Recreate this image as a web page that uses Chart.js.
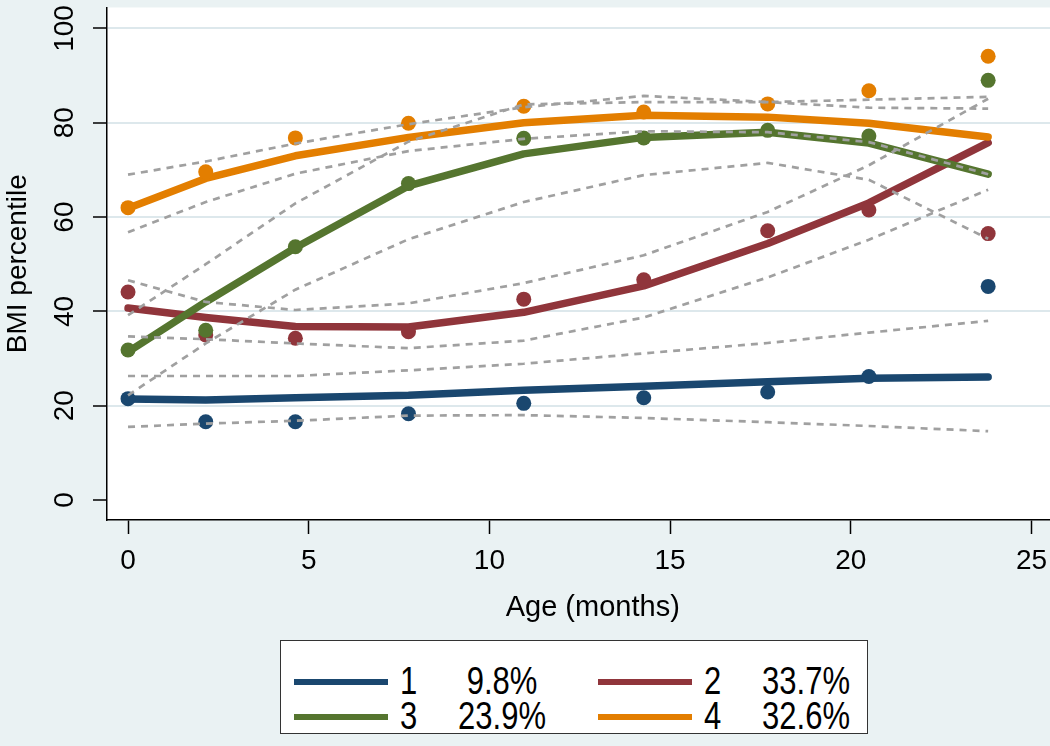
<!DOCTYPE html>
<html>
<head>
<meta charset="utf-8">
<script src="https://cdn.jsdelivr.net/npm/chart.js@4.4.1/dist/chart.umd.min.js"></script>
<style>
  html, body { margin:0; padding:0; background:#eaf2f3; }
  body { width:1050px; height:746px; position:relative; overflow:hidden; font-family:"Liberation Sans", Arial, sans-serif; }
  #wrap { position:absolute; left:0; top:0; width:1086px; height:625px; }
  #legend { position:absolute; left:280px; top:640px; width:588px; height:94px; background:#fff; border:1.5px solid #333; box-sizing:border-box; }
  .item { position:absolute; height:36px; }
  .key { position:absolute; left:0; top:15px; width:94px; height:6px; }
  .num, .pct { position:absolute; top:0; font-size:31px; line-height:36px; color:#000; transform:scaleY(1.28); transform-origin:50% 55%; }
  .num { left:106px; }
  .pct { left:148px; width:120px; text-align:center; }
</style>
</head>
<body>
<div id="wrap"><canvas id="c"></canvas></div>
<div id="legend"></div>
<script>
// ---- data ----
const months = [0, 2.15, 4.63, 7.76, 10.95, 14.27, 17.7, 20.5, 23.8];
const xTicks = [0, 5, 10, 15, 20, 25];
const yTicks = [0, 20, 40, 60, 80, 100];

const groupLabels = ['1', '2', '3', '4'];
const groupShares = ['9.8%', '33.7%', '23.9%', '32.6%'];
const groupColors = ['#1a476f', '#90353b', '#55752f', '#e37e00'];

const obs1 = [21.5, 16.6, 16.6, 18.3, 20.5, 21.7, 22.9, 26.2, 45.3];
const fit1 = [21.4, 21.2, 21.7, 22.2, 23.3, 24.1, 25.1, 25.8, 26.1];
const lo1  = [15.5, 16.2, 16.8, 17.9, 18.0, 17.4, 16.5, 15.7, 14.6];
const hi1  = [26.3, 26.3, 26.3, 27.5, 28.9, 31.1, 33.3, 35.5, 38.0];

const obs2 = [44.1, 35.0, 34.3, 35.7, 42.6, 46.7, 57.1, 61.5, 56.5];
const fit2 = [40.7, 38.7, 36.8, 36.7, 39.8, 45.4, 54.4, 63.0, 75.8];
const lo2  = [34.7, 34.1, 33.2, 32.2, 33.8, 38.7, 47.2, 55.2, 65.8];
const hi2  = [46.6, 42.0, 40.3, 41.7, 46.0, 51.9, 61.1, 71.0, 85.1];

const obs3 = [31.8, 36.0, 53.7, 67.1, 76.7, 76.8, 78.4, 77.2, 89.0];
const fit3 = [31.4, 42.0, 53.5, 66.6, 73.4, 76.9, 78.0, 75.7, 69.1];
const lo3  = [22.2, 33.2, 44.6, 55.3, 63.2, 68.9, 71.5, 67.9, 55.4];
const hi3  = [39.2, 50.0, 62.9, 76.0, 83.9, 84.4, 84.4, 83.2, 83.0];

const obs4 = [62.0, 69.6, 76.8, 79.9, 83.5, 82.3, 84.0, 86.8, 94.1];
const fit4 = [61.9, 68.2, 73.0, 76.9, 80.0, 81.6, 81.2, 79.9, 77.0];
const lo4  = [56.8, 63.2, 69.2, 74.0, 76.6, 78.2, 78.0, 75.9, 69.1];
const hi4  = [69.0, 71.8, 75.6, 79.7, 83.3, 85.7, 84.4, 84.9, 85.5];

const observed = [obs1, obs2, obs3, obs4];
const fitted = [fit1, fit2, fit3, fit4];
const lowers = [lo1, lo2, lo3, lo4];
const uppers = [hi1, hi2, hi3, hi4];

// ---- build datasets ----
const pts = arr => months.map((m, i) => ({x: m, y: arr[i]}));
const datasets = [];
const dashColor = '#a0a0a0';
for (let g = 0; g < 4; g++) {
  [lowers[g], uppers[g]].forEach(arr => datasets.push({
    data: pts(arr), showLine: true, borderColor: dashColor, borderWidth: 2.7,
    borderDash: [7, 6], pointRadius: 0, tension: 0, fill: false, order: 0
  }));
}
for (let g = 0; g < 4; g++) {
  datasets.push({
    data: pts(fitted[g]), showLine: true, borderColor: groupColors[g], borderWidth: 7.5,
    borderJoinStyle: 'round', borderCapStyle: 'round',
    pointRadius: 0, tension: 0, fill: false, order: 20 - g * 2
  });
  datasets.push({
    data: pts(observed[g]), showLine: false, backgroundColor: groupColors[g],
    borderWidth: 0, pointRadius: 7.5, order: 19 - g * 2
  });
}

const bgPlugin = {
  id: 'plotbg',
  beforeDraw(chart) {
    const {ctx, chartArea: a} = chart;
    ctx.save();
    ctx.fillStyle = '#ffffff';
    ctx.fillRect(a.left, a.top, a.right - a.left, a.bottom - a.top);
    ctx.restore();
  }
};

const fam = '"Liberation Sans", Arial, sans-serif';
const font = {family: fam, size: 28};
const noPad = s => { s.paddingTop = 0; s.paddingBottom = 0; s.paddingLeft = 0; s.paddingRight = 0; };

new Chart(document.getElementById('c'), {
  type: 'scatter',
  data: {datasets},
  plugins: [bgPlugin],
  options: {
    responsive: true, maintainAspectRatio: false, animation: false,
    layout: {padding: {top: 7, right: 0, left: 0, bottom: 0}},
    plugins: {legend: {display: false}, tooltip: {enabled: false}},
    scales: {
      x: {
        type: 'linear', min: -0.582, max: 26.30,
        afterBuildTicks: s => { s.ticks = xTicks.map(v => ({value: v})); },
        afterFit: s => { s.height = 105; noPad(s); },
        grid: {drawOnChartArea: false, drawTicks: true, tickLength: 14, tickColor: '#000', tickWidth: 1.5},
        border: {display: true, color: '#000', width: 1.5},
        ticks: {color: '#000', font: font, padding: 10, maxRotation: 0},
        title: {display: true, text: 'Age (months)', color: '#000', font: {family: fam, size: 29}, padding: {top: 0, bottom: 0}}
      },
      y: {
        type: 'linear', min: -4.24, max: 104.45,
        afterBuildTicks: s => { s.ticks = yTicks.map(v => ({value: v})); },
        afterFit: s => { s.width = 107; noPad(s); },
        grid: {
          drawOnChartArea: true, drawTicks: true, tickLength: 14, tickColor: '#000', tickWidth: 1.5,
          color: c => (c.tick && c.tick.value === 0) ? 'rgba(0,0,0,0)' : '#dde8ec', lineWidth: 2
        },
        border: {display: true, color: '#000', width: 1.5},
        ticks: {color: '#000', font: font, padding: 4, minRotation: 90, maxRotation: 90, crossAlign: 'center'},
        title: {display: true, text: 'BMI percentile', color: '#000', font: {family: fam, size: 28}, padding: {top: 1, bottom: 0}}
      }
    }
  }
});

// ---- legend (HTML, real text) ----
const legend = document.getElementById('legend');
const legendOrder = [0, 1, 2, 3];
legendOrder.forEach((g, k) => {
  const col = k % 2, row = Math.floor(k / 2);
  const it = document.createElement('div');
  it.className = 'item';
  it.style.left = (13 + col * 304) + 'px';
  it.style.top = (23 + row * 35) + 'px';
  it.innerHTML = '<div class="key" style="background:' + groupColors[g] + '"></div>' +
    '<span class="num">' + groupLabels[g] + '</span>' +
    '<span class="pct">' + groupShares[g] + '</span>';
  legend.appendChild(it);
});
</script>
</body>
</html>
